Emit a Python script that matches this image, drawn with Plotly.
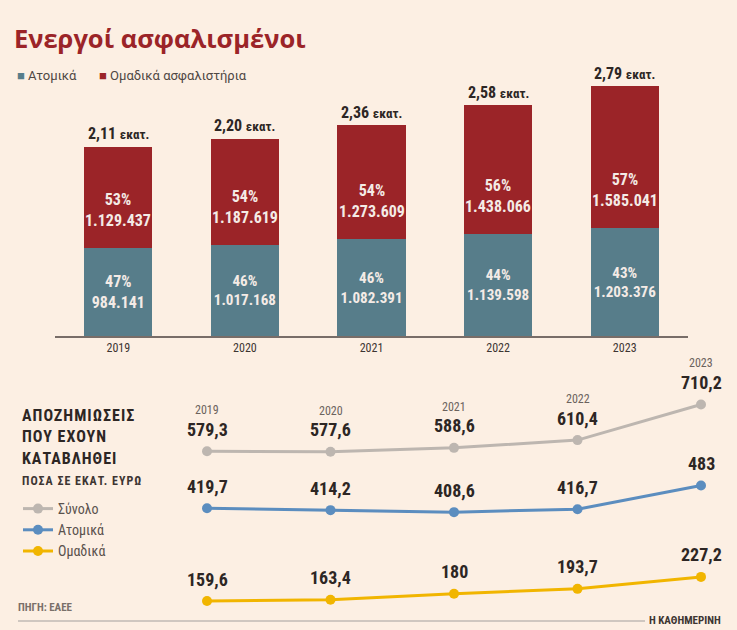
import plotly.graph_objects as go

# ---------------- data ----------------
years = ["2019", "2020", "2021", "2022", "2023"]
atomika = [984141, 1017168, 1082391, 1139598, 1203376]          # Ατομικά
omadika = [1129437, 1187619, 1273609, 1438066, 1585041]         # Ομαδικά ασφαλιστήρια

line_years = [2019, 2020, 2021, 2022, 2023]
synolo = [579.3, 577.6, 588.6, 610.4, 710.2]                    # Σύνολο
atomika_apoz = [419.7, 414.2, 408.6, 416.7, 483]                # Ατομικά
omadika_apoz = [159.6, 163.4, 180, 193.7, 227.2]                # Ομαδικά

# ---------------- style ----------------
W, H = 737, 630
BG = "#fcefe3"
RED = "#9b2428"
BLUE = "#577d8a"
GREY_L = "#bdb6b0"
BLUE_L = "#5b8dbf"
YEL_L = "#f1b500"
DARK = "#2d2624"
BAR_TXT = "#f4ebe6"
COND = "Roboto Condensed, DejaVu Sans Condensed, sans-serif"
SANS = "Roboto, Liberation Sans, sans-serif"


def PX(x):
    return x / W


def PY(y):
    return 1 - y / H


def thousands(v):
    return f"{v:,}".replace(",", ".")


def dec(v):
    return f"{v:g}".replace(".", ",")


totals = [a + o for a, o in zip(atomika, omadika)]
pct_a = [round(a / t * 100) for a, t in zip(atomika, totals)]
pct_o = [round(o / t * 100) for o, t in zip(omadika, totals)]

fig = go.Figure()

fig.add_trace(go.Bar(
    x=years, y=atomika, name="Ατομικά", marker=dict(color=BLUE, line=dict(width=0)),
    text=[f"<b>{p}%<br>{thousands(v)}</b>" for p, v in zip(pct_a, atomika)],
    textposition="inside", insidetextanchor="middle", textangle=0,
    textfont=dict(family=COND, size=16, color=BAR_TXT),
    showlegend=False, hoverinfo="skip", xaxis="x", yaxis="y",
))
fig.add_trace(go.Bar(
    x=years, y=omadika, name="Ομαδικά ασφαλιστήρια", marker=dict(color=RED, line=dict(width=0)),
    showlegend=False, hoverinfo="skip", xaxis="x", yaxis="y",
))

for name, vals, col in [("Σύνολο", synolo, GREY_L), ("Ατομικά", atomika_apoz, BLUE_L),
                        ("Ομαδικά", omadika_apoz, YEL_L)]:
    fig.add_trace(go.Scatter(
        x=line_years, y=vals, name=name, mode="lines+markers",
        line=dict(color=col, width=3), marker=dict(color=col, size=10),
        cliponaxis=False, xaxis="x2", yaxis="y2", hoverinfo="skip",
    ))

ann = []
# labels of the red segments (anchored above the segment's lower edge)
for i, (a, o, p) in enumerate(zip(atomika, omadika, pct_o)):
    ann.append(dict(x=i, y=a, xref="x", yref="y", yshift=38, showarrow=False,
                    text=f"<b>{p}%<br>{thousands(o)}</b>",
                    font=dict(family=COND, size=16, color=BAR_TXT)))
# totals above bars
for i, t in enumerate(totals):
    ann.append(dict(x=i, y=t, xref="x", yref="y", yshift=13, showarrow=False,
                    text=f"<b>{t/1e6:.2f}".replace(".", ",")
                         + "</b> <b><span style='font-size:13px'>εκατ.</span></b>",
                    font=dict(family=COND, size=16, color=DARK)))
# line labels
for yr, v in zip(line_years, synolo):
    ann.append(dict(x=yr, y=v, xref="x2", yref="y2", yshift=22, showarrow=False,
                    text=f"<b>{dec(v)}</b>", font=dict(family=COND, size=18, color=DARK)))
    ann.append(dict(x=yr, y=v, xref="x2", yref="y2", yshift=41, showarrow=False,
                    text=str(yr), font=dict(family=COND, size=12, color="#6b625d")))
for vals in (atomika_apoz, omadika_apoz):
    for yr, v in zip(line_years, vals):
        ann.append(dict(x=yr, y=v, xref="x2", yref="y2", yshift=22, showarrow=False,
                        text=f"<b>{dec(v)}</b>", font=dict(family=COND, size=18, color=DARK)))

# title and bar legend
ann.append(dict(x=PX(12), y=PY(38), xref="paper", yref="paper", xanchor="left", yanchor="middle",
                showarrow=False, text="Ενεργοί ασφαλισμένοι",
                font=dict(family="Open Sans, Roboto, sans-serif", size=25.5, weight=700, color=RED)))
ann.append(dict(x=PX(15), y=PY(75), xref="paper", yref="paper", xanchor="left", yanchor="middle",
                showarrow=False,
                text=f"<span style='color:{BLUE}'>■</span> Ατομικά",
                font=dict(family=SANS, size=13, color="#4f4743")))
ann.append(dict(x=PX(97), y=PY(75), xref="paper", yref="paper", xanchor="left", yanchor="middle",
                showarrow=False,
                text=f"<span style='color:{RED}'>■</span> Ομαδικά ασφαλιστήρια",
                font=dict(family=SANS, size=13, color="#4f4743")))

# left text block
for i, line in enumerate(["ΑΠΟΖΗΜΙΩΣΕΙΣ", "ΠΟΥ ΕΧΟΥΝ", "ΚΑΤΑΒΛΗΘΕΙ"]):
    ann.append(dict(x=PX(20), y=PY(415 + i * 21.5), xref="paper", yref="paper", xanchor="left",
                    yanchor="middle", showarrow=False,
                    text=f"<b><span style='letter-spacing:1px'>{line}</span></b>",
                    font=dict(family=COND, size=16, color=DARK)))
ann.append(dict(x=PX(20), y=PY(481), xref="paper", yref="paper", xanchor="left", yanchor="middle",
                showarrow=False, text="<b><span style='letter-spacing:1px'>ΠΟΣΑ ΣΕ ΕΚΑΤ. ΕΥΡΩ</span></b>",
                font=dict(family=COND, size=12, color="#3d3532")))
ann.append(dict(x=PX(16), y=PY(607), xref="paper", yref="paper", xanchor="left", yanchor="middle",
                showarrow=False, text="<b>ΠΗΓΗ: ΕΑΕΕ</b>",
                font=dict(family=COND, size=11, color="#7a706a")))
ann.append(dict(x=PX(723), y=PY(620), xref="paper", yref="paper", xanchor="right", yanchor="middle",
                showarrow=False, text="<b>Η ΚΑΘΗΜΕΡΙΝΗ</b>",
                font=dict(family=COND, size=11, color="#3d3532")))

shapes = [dict(type="line", xref="paper", yref="paper", x0=PX(18), x1=PX(645), y0=PY(621), y1=PY(621),
               line=dict(color="#cfc7c0", width=2))]

fig.update_layout(
    width=W, height=H, margin=dict(l=0, r=0, t=0, b=0),
    paper_bgcolor=BG, plot_bgcolor="rgba(0,0,0,0)",
    barmode="stack", bargap=0.462,
    xaxis=dict(domain=[PX(55), PX(688)], type="category", range=[-0.5, 4.5], showline=True,
               linecolor="#786d68", linewidth=2, ticks="", showgrid=False, zeroline=False, anchor="y",
               tickfont=dict(family=COND, size=12, color="#3d3532")),
    yaxis=dict(domain=[PY(336), PY(60)], range=[0, 276 / 89.5 * 1e6], visible=False, anchor="x"),
    xaxis2=dict(domain=[0, 1], range=[2019 - 207 / 123.5, 2019 + (737 - 207) / 123.5],
                visible=False, anchor="y2"),
    yaxis2=dict(domain=[0, PY(360)], range=[(658 - 630) / 0.357, (658 - 360) / 0.357],
                visible=False, anchor="x2"),
    legend=dict(x=PX(18), y=PY(493), xanchor="left", yanchor="top", bgcolor="rgba(0,0,0,0)",
                font=dict(family=COND, size=14, color="#5a524d"), itemwidth=30,
                traceorder="normal", tracegroupgap=2),
    showlegend=True,
    annotations=ann, shapes=shapes,
)

fig.write_html("out.html", config={"displayModeBar": False},
               post_script="document.body.style.margin='0';")
